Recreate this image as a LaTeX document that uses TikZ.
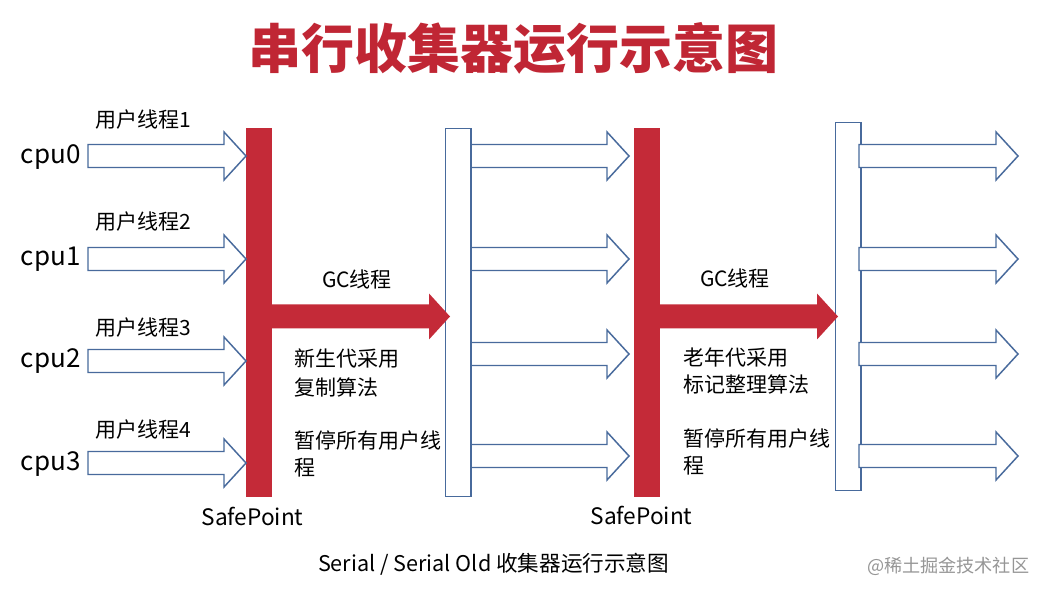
\documentclass[tikz,border=0pt]{standalone}
\usepackage{fontspec}
\setmainfont{Noto Sans CJK SC}
\usetikzlibrary{calc}
\definecolor{gcred}{RGB}{196,42,56}
\definecolor{titlered}{RGB}{192,38,52}
\definecolor{lineblue}{RGB}{72,106,156}
\definecolor{wmgray}{RGB}{150,150,150}
\tikzset{
  x=0.75pt, y=-0.75pt,
  redbar/.style={fill=gcred, inner sep=0pt, outer sep=0pt, minimum width=19.5pt, minimum height=276.75pt, anchor=north west},
  whitebox/.style={draw=lineblue, line width=1.1pt, fill=white, inner sep=0pt, outer sep=0pt, minimum width=19pt, minimum height=276pt, anchor=north west},
  hollow/.style={draw=lineblue, line width=1.1pt, fill=white, line join=miter},
  txt/.style={inner sep=0pt, outer sep=0pt, font=\fontsize{15.75}{18}\selectfont, anchor=base west},
  cpulbl/.style={txt, font=\fontsize{19.5}{22}\selectfont},
  splbl/.style={txt, anchor=base, font=\fontsize{17}{20}\selectfont},
  gclbl/.style={txt, anchor=base},
}
\newcommand{\hollowarrow}[2]{\draw[hollow] ($(#1)+(0,-11.5)$) -- ($(#2)+(-22,-11.5)$) -- ($(#2)+(-22,-24)$) -- (#2) -- ($(#2)+(-22,24)$) -- ($(#2)+(-22,11.5)$) -- ($(#1)+(0,11.5)$) -- cycle;}
\newcommand{\gcarrow}[2]{\fill[gcred] ($(#1)+(0,-12)$) -- ($(#2)+(-21,-12)$) -- ($(#2)+(-21,-23)$) -- (#2) -- ($(#2)+(-21,23)$) -- ($(#2)+(-21,12)$) -- ($(#1)+(0,12)$) -- cycle;}
\begin{document}
\begin{tikzpicture}
\fill[white] (0,0) rectangle (1046,595);
\useasboundingbox (0,0) rectangle (1046,595);

% title
\node[inner sep=0pt, anchor=base, text=titlered, font=\bfseries\fontsize{39.75}{44}\selectfont] (title) at (513,69) {串行收集器运行示意图};

% bars and boxes
\node[redbar] (bar1) at (246,128) {};
\node[whitebox] (box1) at (445.7,128.7) {};
\node[redbar] (bar2) at (634,128) {};
\node[whitebox] (box2) at (835.7,122.7) {};

% cpu labels
\node[cpulbl] (cpu0) at (21,164) {cpu0};
\node[cpulbl] (cpu1) at (21,266) {cpu1};
\node[cpulbl] (cpu2) at (21,368) {cpu2};
\node[cpulbl] (cpu3) at (21,470) {cpu3};
\node[txt] (u1) at (95,128) {用户线程1};
\node[txt] (u2) at (95,230) {用户线程2};
\node[txt] (u3) at (95,335) {用户线程3};
\node[txt] (u4) at (95,437) {用户线程4};

% user thread arrows into first safepoint
\coordinate (a0) at (88,156);
\coordinate (a1) at (88,259);
\coordinate (a2) at (88,361);
\coordinate (a3) at (88,463);
\hollowarrow{a0}{bar1.west |- a0}
\hollowarrow{a1}{bar1.west |- a1}
\hollowarrow{a2}{bar1.west |- a2}
\hollowarrow{a3}{bar1.west |- a3}

% arrows between first pause and second safepoint
\coordinate (m0) at (629,156);
\coordinate (m1) at (629,259);
\coordinate (m2) at (629,354);
\coordinate (m3) at (629,456);
\hollowarrow{box1.east |- m0}{m0}
\hollowarrow{box1.east |- m1}{m1}
\hollowarrow{box1.east |- m2}{m2}
\hollowarrow{box1.east |- m3}{m3}

% arrows after second pause
\coordinate (r0s) at (859,156);
\coordinate (r1s) at (859,259);
\coordinate (r2s) at (859,354);
\coordinate (r3s) at (859,456);
\coordinate (r0) at (1018,156);
\coordinate (r1) at (1018,259);
\coordinate (r2) at (1018,354);
\coordinate (r3) at (1018,456);
\hollowarrow{r0s}{r0}
\hollowarrow{r1s}{r1}
\hollowarrow{r2s}{r2}
\hollowarrow{r3s}{r3}

% GC thread arrows
\coordinate (g1) at (450,316.5);
\coordinate (g2) at (838,316.5);
\gcarrow{bar1.center |- g1}{g1}
\gcarrow{bar2.center |- g2}{g2}
\node[gclbl] (gc1) at (357,288) {GC线程};
\node[gclbl] (gc2) at (735,287) {GC线程};

% descriptions
\node[txt] (d1a) at (294,366) {新生代采用};
\node[txt] (d1b) at (294,395) {复制算法};
\node[txt] (d1c) at (294,448) {暂停所有用户线};
\node[txt] (d1d) at (294,475) {程};
\node[txt] (d2a) at (683,365.5) {老年代采用};
\node[txt] (d2b) at (683,392.5) {标记整理算法};
\node[txt] (d2c) at (683,446.5) {暂停所有用户线};
\node[txt] (d2d) at (683,473.5) {程};

% safepoint labels
\node[splbl] (sp1) at (252.5,525) {SafePoint};
\node[splbl] (sp2) at (641.5,524) {SafePoint};

% caption and watermark
\node[txt, font=\fontsize{16.2}{20}\selectfont] (cap) at (318,571) {Serial / Serial Old 收集器运行示意图};
\node[txt, text=wmgray, font=\fontsize{13.6}{16}\selectfont] (wm) at (867,572) {@稀土掘金技术社区};
\end{tikzpicture}
\end{document}
